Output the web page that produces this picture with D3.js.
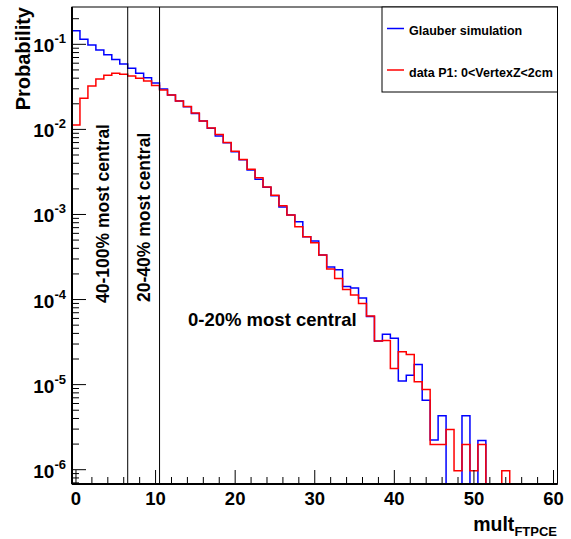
<!DOCTYPE html>
<html>
<head>
<meta charset="utf-8">
<script src="https://cdn.jsdelivr.net/npm/d3@7"></script>
<style>
  body { margin: 0; background: #fff; }
  text { font-family: "Liberation Sans", Arial, Helvetica, sans-serif; font-weight: bold; fill: #000; }
</style>
</head>
<body>
<svg id="chart" width="571" height="539"></svg>
<script>
// Multiplicity bins, one per integer value of mult_FTPCE (0 .. 60)
const binCenters = d3.range(0, 61);

// Normalised multiplicity distribution from the Glauber simulation
const glauber = [
  0.1441, 0.1145, 0.0981, 0.0857, 0.0752, 0.0661, 0.0587, 0.0522, 0.0457, 0.0404,
  0.0351, 0.0298, 0.02534, 0.02154, 0.01846, 0.01536, 0.01253, 0.01029, 0.00835, 0.00695,
  0.00547, 0.00439, 0.00333, 0.00259, 0.00209, 0.001655, 0.001222, 0.000984, 0.000821, 0.000547,
  0.000487, 0.000333, 0.000241, 0.000224, 0.0001424, 0.0001371, 0.000104, 6.33e-5, 3.25e-5, 3.90e-5,
  3.52e-5, 1.10e-5, 1.293e-5, 1.728e-5, 6.57e-6, 2.23e-6, 4.30e-6, 0, 0, 4.30e-6,
  0, 2.2e-6, 0, 0, 0, 0, 0, 0, 0, 0, 0
];

// Normalised multiplicity distribution measured in period P1, 0 < VertexZ < 2 cm
const dataP1 = [
  0.01125, 0.02318, 0.03234, 0.03908, 0.0432, 0.0456, 0.04448, 0.04239, 0.03983, 0.03702,
  0.03278, 0.02902, 0.02534, 0.02154, 0.01856, 0.01557, 0.01253, 0.01037, 0.0087, 0.00701,
  0.00552, 0.00442, 0.0034, 0.002694, 0.0021, 0.001677, 0.001265, 0.000984, 0.000717, 0.000547,
  0.000465, 0.000333, 0.000228, 0.0001763, 0.0001316, 0.0001128, 9.01e-5, 6.39e-5, 3.26e-5, 3.31e-5,
  1.551e-5, 2.43e-5, 2.265e-5, 1.078e-5, 8.78e-6, 1.98e-6, 1.98e-6, 2.97e-6, 9.7e-7, 1.98e-6,
  9.7e-7, 1.98e-6, 0, 0, 9.7e-7, 0, 0, 0, 0, 0, 0
];

const xTickValues = [0, 10, 20, 30, 40, 50, 60];
const yDecadeExponents = [-6, -5, -4, -3, -2, -1];
const centralityCuts = [6.5, 10.5];
const centralityLabels = ["40-100% most central", "20-40% most central", "0-20% most central"];
const legendLabels = ["Glauber simulation", "data P1: 0<VertexZ<2cm"];
const seriesColors = ["#0000ff", "#ff0000"];

// ---- layout ----
const frame = { left: 72, right: 557.5, top: 7, bottom: 484 };
const yMin = 6.79e-7, yMax = 0.2746;

const svg = d3.select("#chart");
const x = d3.scaleLinear().domain([-0.5, 60.5]).range([frame.left, frame.right]);
const y = d3.scaleLog().domain([yMin, yMax]).range([frame.bottom, frame.top]);

svg.append("defs").append("clipPath").attr("id", "plotClip")
  .append("rect")
  .attr("x", frame.left).attr("y", frame.top)
  .attr("width", frame.right - frame.left).attr("height", frame.bottom - frame.top);

// frame box
svg.append("rect")
  .attr("x", frame.left).attr("y", frame.top)
  .attr("width", frame.right - frame.left).attr("height", frame.bottom - frame.top)
  .attr("fill", "none").attr("stroke", "#000").attr("stroke-width", 1);

// ---- histograms as step outlines; empty bins drop to the bottom of the frame ----
function stepPath(values) {
  const pts = binCenters.map((c, i) => [c - 0.5, values[i]]);
  pts.push([binCenters[binCenters.length - 1] + 0.5, values[values.length - 1]]);
  return d3.line()
    .x(d => x(d[0]))
    .y(d => d[1] > 0 ? y(d[1]) : frame.bottom)
    .curve(d3.curveStepAfter)(pts);
}

const plot = svg.append("g").attr("clip-path", "url(#plotClip)");
[glauber, dataP1].forEach((vals, i) => {
  plot.append("path")
    .attr("d", stepPath(vals))
    .attr("fill", "none")
    .attr("stroke", seriesColors[i])
    .attr("stroke-width", 1.5);
});

// ---- centrality class boundaries ----
svg.selectAll("line.cut").data(centralityCuts).enter().append("line")
  .attr("class", "cut")
  .attr("x1", d => x(d)).attr("x2", d => x(d))
  .attr("y1", frame.top).attr("y2", frame.bottom)
  .attr("stroke", "#000").attr("stroke-width", 1);

// ---- centrality labels ----
svg.append("text")
  .attr("transform", `translate(109,303) rotate(-90)`)
  .attr("font-size", 17.5)
  .text(centralityLabels[0]);
svg.append("text")
  .attr("transform", `translate(150,302) rotate(-90)`)
  .attr("font-size", 17.5)
  .text(centralityLabels[1]);
svg.append("text")
  .attr("x", 188).attr("y", 326)
  .attr("font-size", 18.5)
  .text(centralityLabels[2]);

// ---- x axis ----
const xAxis = svg.append("g");
xAxis.append("line")
  .attr("x1", frame.left).attr("x2", frame.right)
  .attr("y1", frame.bottom).attr("y2", frame.bottom)
  .attr("stroke", "#000").attr("stroke-width", 2);
const xMinor = d3.range(0, 61, 2);
xAxis.selectAll("line.tick").data(xMinor).enter().append("line")
  .attr("x1", d => x(d)).attr("x2", d => x(d))
  .attr("y1", frame.bottom)
  .attr("y2", d => frame.bottom - (d % 10 === 0 ? 14 : 7))
  .attr("stroke", "#000").attr("stroke-width", 1);
xAxis.selectAll("text.lbl").data(xTickValues).enter().append("text")
  .attr("x", d => x(d)).attr("y", 505)
  .attr("text-anchor", "middle")
  .attr("font-size", 18.5)
  .text(d => d);

// x title: mult with subscript FTPCE
const xTitle = svg.append("text")
  .attr("x", 557).attr("y", 531)
  .attr("text-anchor", "end")
  .attr("font-size", 19.5);
xTitle.append("tspan").text("mult");
xTitle.append("tspan").attr("font-size", 13).attr("dy", 4.5).text("FTPCE");

// ---- y axis ----
const yAxis = svg.append("g");
yAxis.append("line")
  .attr("x1", frame.left).attr("x2", frame.left)
  .attr("y1", frame.top).attr("y2", frame.bottom)
  .attr("stroke", "#000").attr("stroke-width", 2);

const yTicks = [];
for (let e = -7; e <= -1; e++) {
  for (let m = 1; m <= 9; m++) {
    const v = m * Math.pow(10, e);
    if (v >= yMin && v <= yMax) yTicks.push({ v, major: m === 1 });
  }
}
yAxis.selectAll("line.tick").data(yTicks).enter().append("line")
  .attr("x1", frame.left)
  .attr("x2", d => frame.left + (d.major ? 14 : 7))
  .attr("y1", d => y(d.v)).attr("y2", d => y(d.v))
  .attr("stroke", "#000").attr("stroke-width", 1);

const yLabels = yAxis.selectAll("text.lbl").data(yDecadeExponents).enter().append("text")
  .attr("x", 66)
  .attr("y", d => y(Math.pow(10, d)) + 8)
  .attr("text-anchor", "end")
  .attr("font-size", 19);
yLabels.append("tspan").text("10");
yLabels.append("tspan").attr("font-size", 13).attr("dy", -9).text(d => d);

svg.append("text")
  .attr("transform", "translate(30,7) rotate(-90)")
  .attr("text-anchor", "end")
  .attr("font-size", 20)
  .text("Probability");

// ---- legend ----
const legend = svg.append("g");
legend.append("rect")
  .attr("x", 382).attr("y", 7)
  .attr("width", frame.right - 382).attr("height", 85)
  .attr("fill", "#fff").attr("stroke", "#000").attr("stroke-width", 1);
const legendRows = [28.5, 70];
legendLabels.forEach((lab, i) => {
  legend.append("line")
    .attr("x1", 387).attr("x2", 404)
    .attr("y1", legendRows[i]).attr("y2", legendRows[i])
    .attr("stroke", seriesColors[i]).attr("stroke-width", 1.5);
  legend.append("text")
    .attr("x", 409).attr("y", legendRows[i] + 6.5)
    .attr("font-size", 12.5)
    .text(lab);
});
</script>
</body>
</html>
